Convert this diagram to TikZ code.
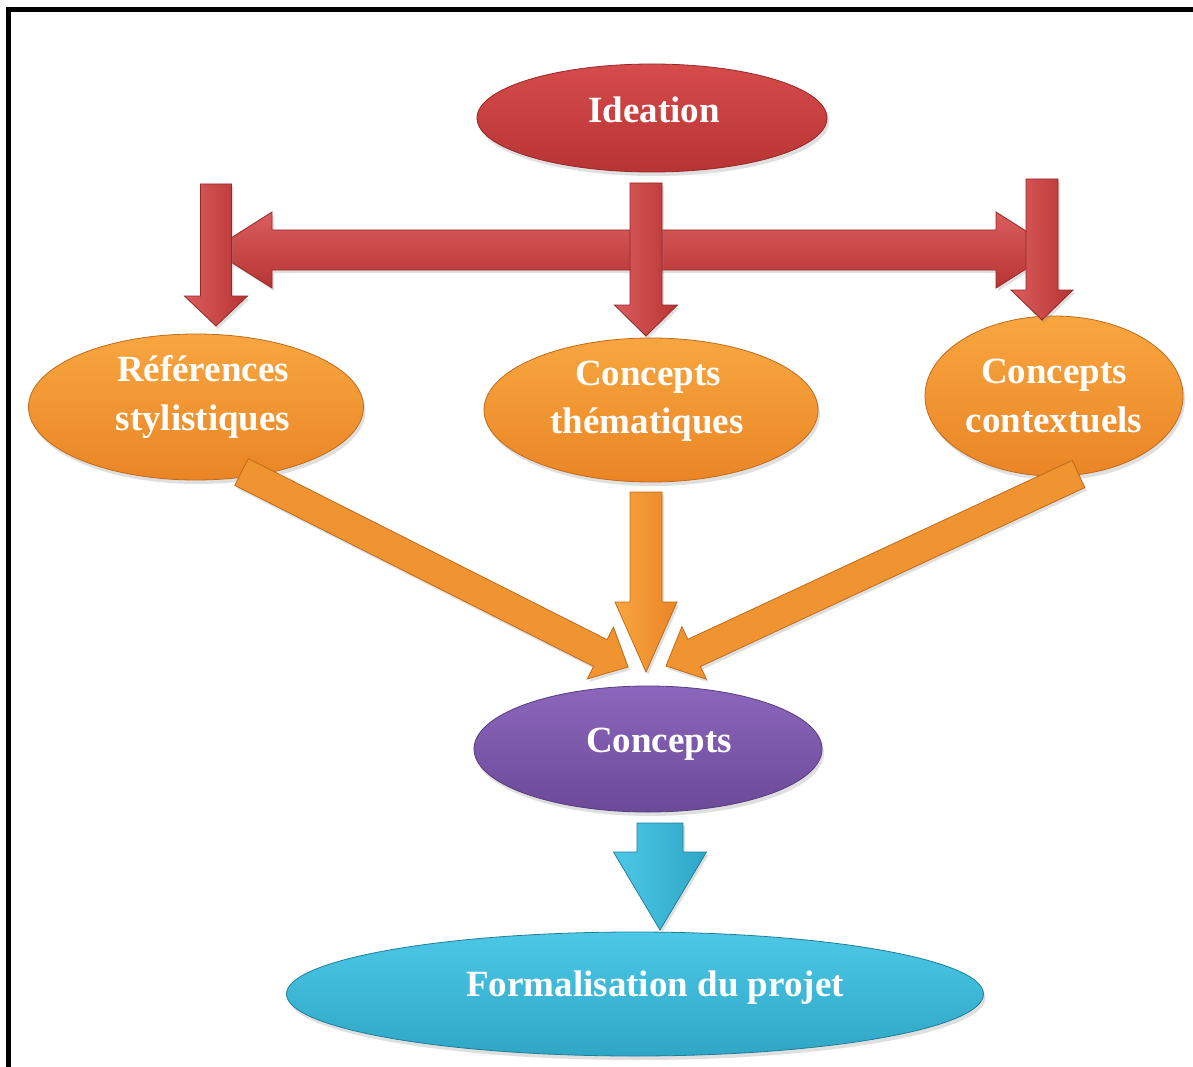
\documentclass[tikz,border=0pt]{standalone}
\usepackage{fontspec}
\setmainfont{Liberation Serif}
\usetikzlibrary{shapes.geometric,calc,shadows}
\definecolor{redA}{HTML}{D64B4B}
\definecolor{redB}{HTML}{B83434}
\definecolor{redE}{HTML}{962828}
\definecolor{orA}{HTML}{F8A640}
\definecolor{orB}{HTML}{EA8526}
\definecolor{orE}{HTML}{C06A1A}
\definecolor{puA}{HTML}{8C66BC}
\definecolor{puB}{HTML}{6B4A98}
\definecolor{puE}{HTML}{583C80}
\definecolor{cyA}{HTML}{4CC8E6}
\definecolor{cyB}{HTML}{2FA6C6}
\definecolor{cyE}{HTML}{1F7F99}
\tikzset{
  oval/.style={ellipse, inner sep=0pt, line width=0.8pt,
    drop shadow={opacity=0.25, shadow xshift=2pt, shadow yshift=-4pt}},
  redoval/.style={oval, draw=redE, top color=redA, bottom color=redB},
  oroval/.style={oval, draw=orE, top color=orA, bottom color=orB},
  puoval/.style={oval, draw=puE, top color=puA, bottom color=puB},
  cyoval/.style={oval, draw=cyE, top color=cyA, bottom color=cyB},
  lbl/.style={anchor=base, text=white, inner sep=0pt,
    font=\fontsize{37}{46}\selectfont\bfseries},
  arrshadow/.style={drop shadow={opacity=0.25, shadow xshift=2pt, shadow yshift=-3pt}},
  redarr/.style={arrshadow, draw=redE, line width=0.8pt, left color=redA!90!white, right color=redB},
  redarrh/.style={arrshadow, draw=redE, line width=0.8pt, top color=redA!90!white, bottom color=redB},
  orarr/.style={arrshadow, draw=orE, line width=0.8pt, fill=orB!55!orA},
  orarrv/.style={arrshadow, draw=orE, line width=0.8pt, left color=orA, right color=orB},
  cyarr/.style={arrshadow, draw=cyE, line width=0.8pt, left color=cyA, right color=cyB},
  frame/.style={line width=5pt, black}
}
% block arrow: #1 tail, #2 tip, #3 shaft half width, #4 head half width, #5 head length, #6 style
\newcommand{\blockarr}[6]{%
  \coordinate (neck) at ($(#2)!#5!(#1)$);
  \path[#6] ($(#1)!#3!90:(#2)$) -- ($(neck)!#3!-90:(#1)$) -- ($(neck)!#4!-90:(#1)$)
    -- (#2) -- ($(neck)!#4!90:(#1)$) -- ($(neck)!#3!90:(#1)$) -- ($(#1)!#3!-90:(#2)$) -- cycle;}
\begin{document}
\begin{tikzpicture}[x=1pt,y=-1pt]
\useasboundingbox (0,0) rectangle (1193,1067);
\clip (0,0) rectangle (1193,1067);
\fill[white] (0,0) rectangle (1193,1067);
\draw[frame] (8.3,1080) -- (8.3,9.5) -- (1210,9.5);

% ellipses
\node[redoval, minimum width=350pt, minimum height=108pt] (ide) at (652,118) {};
\node[oroval, minimum width=335pt, minimum height=146pt] (ref) at (196,407) {};
\node[oroval, minimum width=334pt, minimum height=144pt] (the) at (651,410) {};
\node[oroval, minimum width=258pt, minimum height=160pt] (ctx) at (1054,396) {};
\node[puoval, minimum width=348pt, minimum height=126pt] (con) at (648,749) {};
\node[cyoval, minimum width=697pt, minimum height=124pt] (for) at (635,994) {};

% labels
\node[lbl] (tide) at (654,122.5) {Ideation};
\node[lbl] (tref1) at (203,381.5) {Références};
\node[lbl] (tref2) at (203,430) {stylistiques};
\node[lbl] (tthe1) at (648,385) {Concepts};
\node[lbl] (tthe2) at (647,433) {thématiques};
\node[lbl] (tctx1) at (1054,383) {Concepts};
\node[lbl] (tctx2) at (1054,432) {contextuels};
\node[lbl] (tcon) at (659,752) {Concepts};
\node[lbl] (tfor) at (655,996) {Formalisation du projet};

% horizontal double arrow (behind the vertical ones)
\coordinate (hL) at (212,250);
\coordinate (hR) at (1056,250);
\path[redarrh] (hL) -- (272,212) -- (272,230) -- (996,230) -- (996,212) -- (hR)
  -- (996,288) -- (996,270) -- (272,270) -- (272,288) -- cycle;

% red vertical arrows
\coordinate (r1a) at (216,184);  \coordinate (r1b) at (216,326);
\coordinate (r2a) at (646,183);  \coordinate (r2b) at (646,336);
\coordinate (r3a) at (1042,179); \coordinate (r3b) at (1042,320);
\blockarr{r1a}{r1b}{15.5pt}{31.5pt}{30pt}{redarr}
\blockarr{r2a}{r2b}{16pt}{31.5pt}{31pt}{redarr}
\blockarr{r3a}{r3b}{16pt}{31pt}{30pt}{redarr}

% orange arrows
\coordinate (o1a) at (241.5,472); \coordinate (o1b) at (628,667);
\coordinate (o2a) at (646,492);   \coordinate (o2b) at (646,672);
\coordinate (o3a) at (1078.5,474);\coordinate (o3b) at (666,666);
\blockarr{o1a}{o1b}{15pt}{29pt}{31pt}{orarr}
\blockarr{o2a}{o2b}{16pt}{31pt}{70pt}{orarrv}
\blockarr{o3a}{o3b}{15pt}{29pt}{31pt}{orarr}

% cyan arrow
\coordinate (c1a) at (660,823); \coordinate (c1b) at (660,930);
\blockarr{c1a}{c1b}{23pt}{46.5pt}{78pt}{cyarr}
\end{tikzpicture}
\end{document}
